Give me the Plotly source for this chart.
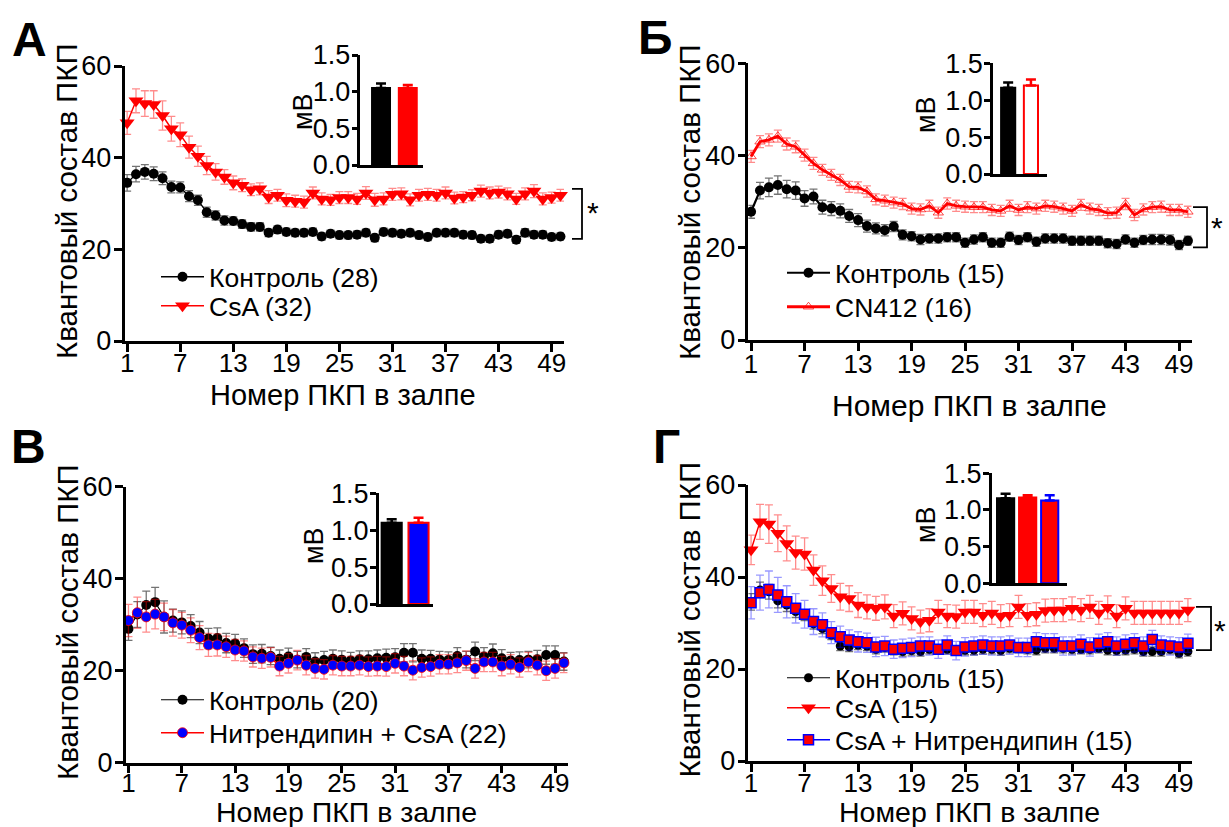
import plotly.graph_objects as go

W, H = 1229, 827
FONT = "Liberation Sans, Arial, sans-serif"

pulse = list(range(1, 51))
x_ticks = [1, 7, 13, 19, 25, 31, 37, 43, 49]

# ---------------- Panel А ----------------
A_ctrl = [34.5, 36.4, 36.9, 36.5, 35.5, 33.6, 33.5, 31.6, 30.7, 28.1,
          27.4, 26.3, 26.2, 25.5, 24.9, 24.9, 23.6, 24.3, 23.8, 23.6,
          23.6, 23.8, 22.8, 23.4, 23.1, 23.1, 23.2, 23.6, 22.5, 23.8,
          23.6, 23.4, 23.6, 23.1, 22.7, 23.6, 23.6, 23.6, 23.2, 23.1,
          22.3, 22.3, 23.2, 23.4, 22.1, 23.6, 23.2, 23.2, 22.7, 22.8]
A_ctrl_sem = [1.8, 1.7, 1.6, 1.5, 1.4, 1.3, 1.2, 1.2, 1.1, 1.1,
              1.0, 1.0, 0.9, 0.9, 0.9, 0.9, 0.8, 0.8, 0.8, 0.8,
              0.8, 0.8, 0.8, 0.8, 0.8, 0.8, 0.8, 0.8, 0.8, 0.8,
              0.8, 0.8, 0.8, 0.8, 0.8, 0.8, 0.8, 0.8, 0.8, 0.8,
              0.8, 0.8, 0.8, 0.8, 0.8, 0.9, 0.8, 0.8, 0.8, 0.8]
A_csa = [47.6, 52.4, 51.8, 51.6, 49.2, 46.3, 45.0, 42.3, 40.3, 38.3,
         36.9, 35.8, 34.5, 34.0, 33.0, 33.2, 31.4, 31.8, 30.7, 30.5,
         30.3, 32.3, 31.0, 30.8, 31.3, 31.3, 31.0, 32.3, 30.8, 31.0,
         32.0, 32.1, 30.8, 31.8, 32.0, 31.8, 32.3, 31.2, 31.4, 31.8,
         32.7, 32.3, 32.5, 32.1, 31.0, 32.1, 32.7, 31.0, 31.3, 31.8]
A_csa_sem = [2.5, 2.6, 2.8, 3.0, 3.2, 2.7, 2.6, 2.4, 2.2, 2.0,
             1.8, 1.6, 1.5, 1.4, 1.3, 1.3, 1.4, 1.3, 1.4, 1.3,
             1.3, 1.3, 1.3, 1.2, 1.3, 1.3, 1.2, 1.4, 1.4, 1.3,
             1.3, 1.3, 1.3, 1.3, 1.3, 1.3, 1.3, 1.3, 1.2, 1.2,
             1.3, 1.3, 1.3, 1.3, 1.2, 1.3, 1.4, 1.3, 1.2, 1.3]
A_bar_vals = [1.05, 1.05]
A_bar_sem = [0.06, 0.04]

# ---------------- Panel Б ----------------
B_ctrl = [27.8, 32.4, 33.1, 33.6, 32.7, 32.4, 30.7, 31.1, 28.8, 28.5,
          28.0, 26.9, 26.0, 24.7, 24.2, 23.8, 24.6, 22.8, 22.5, 21.8,
          22.0, 22.0, 22.3, 22.3, 21.1, 21.8, 22.3, 21.1, 21.1, 22.4,
          21.7, 22.3, 21.3, 22.0, 22.0, 22.0, 21.5, 21.5, 21.5, 21.5,
          21.0, 20.8, 21.8, 21.1, 21.7, 21.8, 21.8, 21.7, 20.6, 21.5]
B_ctrl_sem = [1.4, 1.8, 2.0, 2.0, 1.9, 1.9, 1.7, 1.6, 1.5, 1.5,
              1.5, 1.4, 1.4, 1.3, 1.2, 1.2, 1.1, 1.1, 1.0, 1.1,
              1.0, 1.0, 1.0, 1.0, 1.0, 1.0, 1.0, 1.0, 1.0, 1.0,
              1.0, 1.0, 1.0, 1.0, 1.0, 1.0, 1.0, 1.0, 1.0, 1.0,
              1.0, 1.0, 1.0, 1.0, 1.0, 1.1, 1.1, 1.1, 1.0, 1.0]
B_cn = [39.8, 43.0, 43.4, 44.2, 42.5, 41.9, 40.1, 38.3, 36.9, 35.8,
        34.7, 33.2, 33.1, 32.2, 30.5, 30.2, 29.8, 29.5, 28.5, 28.3,
        29.1, 27.6, 29.6, 29.1, 28.9, 28.8, 28.8, 28.2, 28.0, 29.1,
        28.2, 28.8, 28.5, 29.1, 28.9, 28.5, 28.0, 29.3, 28.5, 28.2,
        27.5, 27.6, 29.5, 27.1, 28.3, 28.8, 28.9, 28.2, 28.2, 27.8]
B_cn_sem = [1.3, 1.3, 1.3, 1.3, 1.3, 1.3, 1.3, 1.3, 1.2, 1.2,
            1.2, 1.2, 1.2, 1.2, 1.2, 1.2, 1.2, 1.2, 1.2, 1.2,
            1.2, 1.2, 1.2, 1.2, 1.2, 1.2, 1.2, 1.2, 1.2, 1.2,
            1.2, 1.2, 1.2, 1.2, 1.2, 1.2, 1.2, 1.2, 1.2, 1.2,
            1.2, 1.2, 1.2, 1.2, 1.2, 1.2, 1.2, 1.2, 1.2, 1.2]
B_bar_vals = [1.17, 1.20]
B_bar_sem = [0.07, 0.08]

# ---------------- Panel В ----------------
V_ctrl = [29.1, 32.2, 34.3, 34.9, 31.7, 30.9, 30.5, 29.7, 28.3, 27.0,
          27.1, 26.0, 25.9, 24.9, 23.6, 23.7, 23.2, 22.6, 23.1, 22.4,
          23.0, 22.0, 22.3, 22.6, 22.4, 22.2, 22.5, 22.5, 22.7, 22.8,
          22.9, 23.9, 23.9, 22.6, 22.6, 22.4, 22.3, 23.2, 22.4, 24.2,
          23.1, 23.8, 22.7, 22.2, 22.3, 22.4, 22.5, 23.4, 23.4, 22.0]
V_ctrl_sem = [2.5, 2.8, 3.0, 3.2, 3.5, 2.5, 2.5, 2.5, 2.4, 2.2,
              2.2, 2.1, 2.0, 2.0, 2.0, 2.0, 1.9, 1.9, 1.8, 1.8,
              1.8, 1.9, 1.9, 1.9, 1.9, 1.8, 1.8, 1.8, 1.8, 1.9,
              1.9, 2.0, 2.0, 1.9, 1.8, 1.8, 1.8, 1.8, 1.8, 2.0,
              1.9, 2.0, 1.9, 1.8, 1.8, 1.8, 1.9, 2.0, 2.0, 1.9]
V_nit = [30.9, 32.6, 31.7, 32.3, 31.7, 30.4, 29.9, 28.8, 27.2, 25.6,
         25.6, 25.2, 24.5, 24.3, 23.0, 22.7, 22.9, 21.0, 21.6, 22.3,
         21.2, 20.5, 20.3, 21.2, 21.0, 21.0, 21.2, 20.9, 21.0, 20.9,
         21.6, 21.0, 20.1, 20.7, 20.9, 21.4, 21.4, 21.7, 22.2, 20.5,
         21.9, 21.9, 21.0, 21.4, 20.7, 21.9, 21.2, 20.0, 20.5, 21.7]
V_nit_sem = [3.5, 3.4, 3.3, 3.2, 3.0, 2.9, 2.8, 2.7, 2.6, 2.5,
             2.4, 2.3, 2.3, 2.2, 2.2, 2.2, 2.1, 2.1, 2.1, 2.1,
             2.1, 2.1, 2.1, 2.1, 2.1, 2.1, 2.1, 2.1, 2.1, 2.1,
             2.1, 2.1, 2.1, 2.1, 2.1, 2.1, 2.1, 2.1, 2.1, 2.1,
             2.1, 2.1, 2.1, 2.1, 2.1, 2.1, 2.1, 2.1, 2.1, 2.1]
V_bar_vals = [1.10, 1.10]
V_bar_sem = [0.05, 0.07]

# ---------------- Panel Г ----------------
G_ctrl = [34.6, 37.2, 36.8, 34.8, 33.9, 32.5, 31.7, 29.8, 28.8, 27.4,
          25.0, 24.8, 25.2, 25.0, 24.3, 24.7, 24.1, 23.8, 24.0, 23.8,
          24.3, 24.3, 24.3, 24.1, 24.1, 24.1, 24.3, 24.3, 24.0, 24.5,
          24.5, 24.3, 24.1, 24.5, 24.5, 24.5, 24.3, 24.3, 24.3, 24.5,
          24.1, 24.0, 24.1, 24.3, 23.8, 23.8, 23.8, 24.3, 23.4, 23.8]
G_ctrl_sem = [1.8, 1.7, 1.6, 1.5, 1.4, 1.3, 1.2, 1.1, 1.1, 1.0,
              1.0, 1.0, 1.0, 1.0, 1.0, 1.0, 1.0, 1.0, 1.0, 1.0,
              1.0, 1.0, 1.0, 1.0, 1.0, 1.0, 1.0, 1.0, 1.0, 1.0,
              1.0, 1.0, 1.0, 1.0, 1.0, 1.0, 1.0, 1.0, 1.0, 1.0,
              1.0, 1.0, 1.0, 1.0, 1.0, 1.0, 1.0, 1.0, 1.0, 1.0]
G_csa = [45.9, 52.0, 51.5, 49.5, 47.3, 45.3, 45.0, 41.5, 39.2, 37.5,
         35.7, 35.3, 33.9, 33.5, 33.2, 33.5, 31.5, 32.1, 31.0, 30.3,
         30.6, 32.4, 31.5, 31.4, 32.4, 32.4, 31.7, 32.2, 31.5, 31.7,
         33.5, 31.7, 31.9, 32.7, 32.8, 32.8, 33.2, 32.8, 33.5, 32.2,
         33.4, 31.5, 33.2, 32.2, 32.2, 32.2, 32.2, 32.2, 32.2, 32.8]
G_csa_sem = [3.2, 3.8, 4.2, 4.0, 3.8, 3.6, 3.5, 3.3, 3.2, 3.0,
             2.9, 2.8, 2.7, 2.6, 2.6, 2.6, 2.5, 2.5, 2.5, 2.5,
             2.5, 2.5, 2.5, 2.5, 2.5, 2.5, 2.5, 2.5, 2.5, 2.5,
             2.5, 2.5, 2.5, 2.5, 2.5, 2.5, 2.5, 2.5, 2.5, 2.5,
             2.5, 2.5, 2.5, 2.5, 2.5, 2.5, 2.5, 2.5, 2.5, 2.5]
G_cn = [34.4, 36.6, 37.3, 36.1, 34.6, 33.2, 31.9, 30.3, 29.6, 27.9,
        27.0, 26.3, 25.9, 25.7, 24.8, 25.0, 24.3, 24.5, 24.7, 25.0,
        25.0, 24.3, 25.2, 24.0, 24.8, 25.0, 25.2, 25.0, 25.0, 25.2,
        24.7, 24.7, 25.9, 25.7, 25.7, 25.0, 25.0, 25.4, 24.8, 25.6,
        25.9, 25.0, 25.4, 25.7, 25.0, 26.4, 25.2, 25.0, 24.8, 25.6]
G_cn_sem = [3.5, 3.8, 4.0, 3.8, 3.5, 3.2, 3.0, 2.8, 2.6, 2.4,
            2.3, 2.2, 2.2, 2.1, 2.1, 2.1, 2.0, 2.0, 2.0, 2.0,
            2.0, 2.0, 2.0, 2.0, 2.0, 2.0, 2.0, 2.0, 2.0, 2.0,
            2.0, 2.0, 2.0, 2.0, 2.0, 2.0, 2.0, 2.0, 2.0, 2.0,
            2.0, 2.0, 2.0, 2.0, 2.0, 2.0, 2.0, 2.0, 2.0, 2.0]
G_bar_vals = [1.16, 1.17, 1.13]
G_bar_sem = [0.06, 0.03, 0.07]

# ---------------- labels ----------------
panel_letters = ["А", "Б", "В", "Г"]
y_title = "Квантовый состав ПКП"
x_title = "Номер ПКП в залпе"
inset_title = "мВ"

RED_EB = "rgba(255,0,0,0.45)"
BLK_EB = "rgba(0,0,0,0.55)"
BLU_EB = "rgba(0,0,255,0.4)"

fig = go.Figure()
legend_names = []


def series(y, sem, name, xa, ya, marker, line, ebcolor):
    leg = "legend" if not legend_names else "legend%d" % (len(legend_names) + 1)
    legend_names.append(leg)
    fig.add_trace(go.Scatter(
        x=pulse, y=y, name=name, mode="lines+markers",
        xaxis=xa, yaxis=ya, legend=leg, cliponaxis=False,
        marker=marker, line=line,
        error_y=dict(type="data", array=sem, color=ebcolor, thickness=1.3, width=4),
    ))


# Panel А
series(A_ctrl, A_ctrl_sem, "Контроль (28)", "x", "y",
       dict(symbol="circle", size=10, color="black"), dict(color="black", width=1.3), BLK_EB)
series(A_csa, A_csa_sem, "CsA (32)", "x", "y",
       dict(symbol="triangle-down", size=13, color="red"), dict(color="red", width=1.5), RED_EB)
# Panel Б
series(B_ctrl, B_ctrl_sem, "Контроль (15)", "x2", "y2",
       dict(symbol="circle", size=10, color="black"), dict(color="black", width=2.2), BLK_EB)
series(B_cn, B_cn_sem, "CN412 (16)", "x2", "y2",
       dict(symbol="triangle-up-open", size=9, color="rgba(255,0,0,0.7)", line=dict(width=1)),
       dict(color="red", width=2.8), RED_EB)
# Panel В
series(V_ctrl, V_ctrl_sem, "Контроль (20)", "x3", "y3",
       dict(symbol="circle", size=10, color="black"), dict(color="black", width=1.2), BLK_EB)
series(V_nit, V_nit_sem, "Нитрендипин + CsA (22)", "x3", "y3",
       dict(symbol="circle", size=10, color="blue", line=dict(color="red", width=0.8)),
       dict(color="red", width=1.5), RED_EB)
# Panel Г
series(G_ctrl, G_ctrl_sem, "Контроль (15)", "x4", "y4",
       dict(symbol="circle", size=9, color="black"), dict(color="black", width=1.2), BLK_EB)
series(G_csa, G_csa_sem, "CsA (15)", "x4", "y4",
       dict(symbol="triangle-down", size=13, color="red"), dict(color="red", width=1.5), RED_EB)
series(G_cn, G_cn_sem, "CsA + Нитрендипин (15)", "x4", "y4",
       dict(symbol="square", size=10, color="red", line=dict(color="blue", width=1.5)),
       dict(color="blue", width=1.5), BLU_EB)


def bars(vals, sem, xa, ya, fills, outlines, ebcolors, width):
    for i, (v, s, f, o, e) in enumerate(zip(vals, sem, fills, outlines, ebcolors)):
        fig.add_trace(go.Bar(
            x=[i], y=[v], xaxis=xa, yaxis=ya, width=width, showlegend=False,
            marker=dict(color=f, line=dict(color=o, width=2)),
            error_y=dict(type="data", symmetric=False, array=[s], arrayminus=[0],
                         color=e, thickness=2.5, width=5),
        ))


bars(A_bar_vals, A_bar_sem, "x5", "y5", ["black", "red"], ["black", "red"], ["black", "red"], 0.67)
bars(B_bar_vals, B_bar_sem, "x6", "y6", ["black", "white"], ["black", "red"], ["black", "red"], 0.62)
bars(V_bar_vals, V_bar_sem, "x7", "y7", ["black", "blue"], ["black", "red"], ["black", "red"], 0.75)
bars(G_bar_vals, G_bar_sem, "x8", "y8", ["black", "red", "red"], ["black", "red", "blue"],
     ["black", "red", "blue"], 0.78)


def px_x(p):
    return p / W


def px_y(p):
    return 1 - p / H


tickfont = dict(family=FONT, size=27, color="black")
axcommon = dict(showline=True, linewidth=2.5, linecolor="black", showgrid=False, zeroline=False,
                ticks="outside", ticklen=8, tickwidth=2.5, tickcolor="black", tickfont=tickfont,
                automargin=False)

# main panels: (x-left px, x-right px, y-bottom px(0), y-top px(60), x tick standoff)
mains = {
    1: (124.5, 564, 341, 66, -11),
    2: (748.4, 1191.5, 340, 63.3, -9),
    3: (125.8, 567.5, 762.7, 486.7, -13),
    4: (748.4, 1191.5, 761, 485, -11),
}
layout = {}
for k, (xl, xr, yb, yt, so) in mains.items():
    sx = "" if k == 1 else str(k)
    layout["xaxis" + sx] = dict(axcommon, domain=[px_x(xl), px_x(xr)], range=[0.7, 50.4],
                                tickvals=x_ticks, anchor="y" + sx, ticklabelstandoff=so,
                                tickfont=dict(family=FONT, size=26, color="black"))
    layout["yaxis" + sx] = dict(axcommon, domain=[px_y(yb), px_y(yt)], range=[0, 60],
                                tickvals=[0, 20, 40, 60], anchor="x" + sx, ticklabelstandoff=-3)

# insets: (x-left, x-right, y-bottom(0), y-top(1.5), xrange)
insets = {
    5: (360.4, 422.5, 165, 55, [-0.77, 1.55]),
    6: (992.9, 1047.1, 174, 63.3, [-0.67, 1.71]),
    7: (378.8, 433.3, 604, 493.3, [-0.48, 1.55]),
    8: (991.7, 1066.9, 583.3, 473.3, [-0.63, 2.78]),
}
for k, (xl, xr, yb, yt, xr_) in insets.items():
    layout["xaxis%d" % k] = dict(showline=True, linewidth=2.5, linecolor="black", showgrid=False,
                                 zeroline=False, showticklabels=False, ticks="", automargin=False,
                                 domain=[px_x(xl), px_x(xr)], range=xr_, anchor="y%d" % k)
    layout["yaxis%d" % k] = dict(axcommon, domain=[px_y(yb), px_y(yt)], range=[0, 1.5],
                                 tickvals=[0, 0.5, 1.0, 1.5], ticktext=["0.0", "0.5", "1.0", "1.5"],
                                 ticklen=6, anchor="x%d" % k, ticklabelstandoff=-4)

# legend rows: (left px, row-centre px) for each trace, in trace order
legend_rows = [(156, 277), (156, 306),
               (782, 273), (782, 307),
               (156, 700), (156, 733),
               (782, 678), (782, 708), (782, 740)]
legfont = dict(family=FONT, size=26.5, color="black")
for leg, (lx, ly) in zip(legend_names, legend_rows):
    layout[leg] = dict(x=px_x(lx), y=px_y(ly), xanchor="left", yanchor="middle", font=legfont,
                       bgcolor="rgba(0,0,0,0)", itemwidth=43)

annotations = []
# panel letters
for letter, (cx, cy) in zip(panel_letters, [(29, 40), (655, 38), (28, 447), (666, 446)]):
    annotations.append(dict(text="<b>%s</b>" % letter, x=px_x(cx), y=px_y(cy), xref="paper", yref="paper",
                            showarrow=False, xanchor="center", yanchor="middle",
                            font=dict(family=FONT, size=48, color="black")))
# y titles
for (cx, cy) in [(67, 201), (689, 202), (67, 622), (689, 619.5)]:
    annotations.append(dict(text=y_title, x=px_x(cx), y=px_y(cy), xref="paper", yref="paper",
                            showarrow=False, textangle=-90, xanchor="center", yanchor="middle",
                            font=dict(family=FONT, size=29.5, color="black")))
# x titles
for (cx, cy, fs) in [(343, 395, 29), (969, 405, 30), (346, 812, 28.5), (969, 812, 28.5)]:
    annotations.append(dict(text=x_title, x=px_x(cx), y=px_y(cy), xref="paper", yref="paper",
                            showarrow=False, xanchor="center", yanchor="middle",
                            font=dict(family=FONT, size=fs, color="black")))
# inset titles
for (cx, cy) in [(303, 112), (926, 115), (314, 546), (926, 525)]:
    annotations.append(dict(text=inset_title, x=px_x(cx), y=px_y(cy), xref="paper", yref="paper",
                            showarrow=False, textangle=-90, xanchor="center", yanchor="middle",
                            font=dict(family=FONT, size=27, color="black")))

# significance brackets
brackets = [
    ("y", 572, 582, 33.2, 22.3, 593, 28.1),
    ("y2", 1193, 1207, 28.8, 20.1, 1217, 24.5),
    ("y4", 1196, 1211, 33.5, 24.1, 1220, 28.3),
]
shapes = []
for yref, x0, x1, ytop, ybot, ax, ay in brackets:
    shapes.append(dict(type="path", xref="paper", yref=yref,
                       path="M %f,%f L %f,%f L %f,%f L %f,%f" % (px_x(x0), ytop, px_x(x1), ytop,
                                                                 px_x(x1), ybot, px_x(x0), ybot),
                       line=dict(color="black", width=1.8)))
    annotations.append(dict(text="*", x=px_x(ax), y=ay, xref="paper", yref=yref, showarrow=False,
                            xanchor="center", yanchor="middle",
                            font=dict(family=FONT, size=30, color="black")))

fig.update_layout(
    width=W, height=H, margin=dict(l=0, r=0, t=0, b=0, pad=0, autoexpand=False),
    paper_bgcolor="white", plot_bgcolor="rgba(0,0,0,0)",
    font=dict(family=FONT, color="black"),
    annotations=annotations, shapes=shapes, barmode="overlay",
    **layout,
)

fig.write_html("out.html", config={"displayModeBar": False},
               post_script="document.body.style.margin='0px';document.body.style.overflow='hidden';")
